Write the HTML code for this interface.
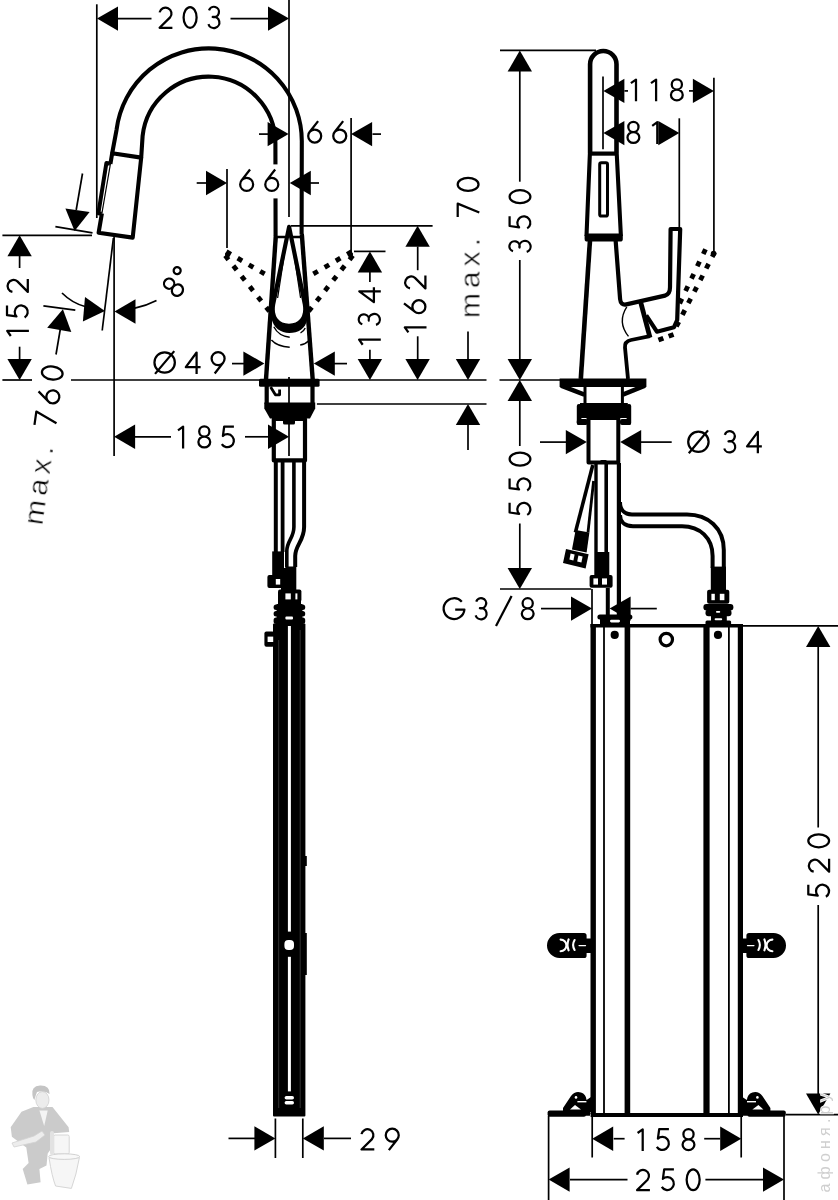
<!DOCTYPE html>
<html><head><meta charset="utf-8"><title>drawing</title>
<style>
html,body{margin:0;padding:0;background:#fff;}
svg{display:block;}
.k{fill:none;stroke:#000;stroke-width:4.1;stroke-linejoin:round;stroke-linecap:butt;}
.t{fill:none;stroke:#000;stroke-width:1.7;}
.f{fill:#000;stroke:none;}
.dot{fill:none;stroke:#000;stroke-width:3;stroke-dasharray:3.2 4.4;stroke-linejoin:round;}
.gl{fill:none;stroke:#000;stroke-width:2.25;stroke-linecap:butt;stroke-linejoin:round;}
.lbl{font-family:"Liberation Sans",sans-serif;font-size:30px;fill:none;stroke:none;}
.tx{font-family:"Liberation Sans",sans-serif;fill:#000;stroke:#fff;stroke-width:0.55px;paint-order:fill stroke;}
</style></head><body>
<svg width="838" height="1200" viewBox="0 0 838 1200">
<rect width="838" height="1200" fill="#fff"/>
<!-- ================= FRONT VIEW ================= -->
<g class="k">
  <!-- spout arch -->
  <path d="M112.2 153.2 L116.5 130.1 A93 93 0 0 1 301.8 143 L301.6 234"/>
  <path d="M141.2 157.6 L142.6 136 A66.6 66.6 0 0 1 275.4 143 L275.6 236"/>
  <!-- spray head -->
  <path d="M110.4 164 L112.2 153.2 L141.2 157.6 L132.7 237.6 L98.6 232.8 L101.9 213.4"/>
  <path d="M110.4 164 L101.9 213.4" stroke-width="1.2"/>
  <path d="M110 163.4 L106.4 163 L98.4 213.2 L101.6 213.8" stroke-width="4"/>
  <!-- body sides -->
  <path d="M275.8 236 L266 379.5" stroke-width="4.4"/>
  <path d="M301.8 234 L312.7 379.5" stroke-width="4.4"/>
  <path d="M276 237 L285.6 237 M292.8 237 L301.5 237" stroke-width="2.6"/>
  <!-- lever teardrop -->
  <path d="M289.1 226.8 L273.2 304 C270.8 318 278 325.8 289 325.8 C300 325.8 307.2 318 304.8 304 Z" stroke-width="4.2"/>
  <path d="M271.2 317 C273 328 281 333 289.3 333 C298 333 305.8 329 307.2 319 L303 313 C303 321 296 324.8 289 324.8 C282 324.8 275 321 275 313 Z" fill="#000" stroke="none"/>
  <path d="M286.5 240 L277.6 298" stroke-width="1.3"/>
  <path d="M291.8 240 L300.6 298" stroke-width="1.3"/>
  <!-- recess arcs -->
  <path d="M273.8 326.8 C277 333 283 336.6 289.7 337.2" stroke-width="1.4"/>
  <path d="M300.5 333 C303 331.6 304.4 330 305.2 328" stroke-width="1.4"/>
  <path d="M271.4 340 C275 344 282 346.8 289.7 347.2" stroke-width="1.4"/>
  <path d="M300.2 345 C304 344.4 306.6 343 308.4 341" stroke-width="1.4"/>
  <!-- neck -->
  <path d="M266.7 386 L266.7 404 M312.5 386 L312.5 404" stroke-width="4.2"/>
  <path d="M270.6 387 L275.4 394.8 L279.6 394.8 L279.6 389.4" stroke-width="2.8"/>
  <!-- shank -->
  <rect x="273.8" y="419" width="31.2" height="41.4" stroke-width="4.2"/>
  <!-- hoses -->
  <path d="M275.8 462 L275.8 552" stroke-width="4"/>
  <path d="M282.6 462 L282.6 552" stroke-width="3.8"/>
  <path d="M293.9 462 L293.9 527 C293.9 538 286.8 541 286.8 551 L286.8 567" stroke-width="3.6"/>
  <path d="M304.1 462 L304.1 527 C304.1 541 295.2 545 295.2 556 L295.2 567" stroke-width="4"/>
</g>
<g class="f">
  <!-- base plate -->
  <rect x="259" y="378.8" width="60.6" height="8" rx="1.5"/>
  <!-- band -->
  <path d="M264.3 402.4 L315.2 402.4 L315.2 408.6 L310 418.6 L270 418.6 L264.3 408.6 Z"/>
  <rect x="283" y="418" width="12" height="6.5" rx="1.5"/>
  <!-- fittings front -->
  <rect x="272.2" y="551.4" width="11.8" height="25"/>
  <rect x="267.4" y="575" width="16.6" height="13" rx="2"/>
  <rect x="285.3" y="566.5" width="11" height="24.5"/>
  <rect x="278" y="589.6" width="23.4" height="12.4" rx="2"/>
  <rect x="273.6" y="604.6" width="31.6" height="5.4" rx="2.5"/>
  <rect x="273.6" y="611" width="31.6" height="5.4" rx="2.5"/>
  <rect x="273.6" y="617.4" width="31.6" height="6.6" rx="2.5"/>
  <rect x="278" y="600" width="23" height="8"/>
  <rect x="264.4" y="631.6" width="10" height="15.2" rx="2"/>
  <rect x="281" y="568" width="6" height="22"/>
  <rect x="276.6" y="604" width="25.8" height="20"/>
  <!-- narrow box -->
  <rect x="273" y="623.4" width="32.4" height="493.2" rx="1"/>
  <rect x="305" y="856" width="1.8" height="10"/>
  <rect x="305" y="933" width="1.8" height="42"/>
</g>
<g fill="#fff">
  <rect x="275.8" y="579" width="4.4" height="5.6"/>
  <rect x="285.4" y="593.4" width="5.4" height="6"/>
  <rect x="295.4" y="593.4" width="2" height="6"/>
  <rect x="285.4" y="616.6" width="7.6" height="3" rx="1"/>
  <rect x="267.6" y="636.6" width="5.6" height="5.4"/>
  <rect x="287.9" y="626" width="3" height="305.6"/>
  <rect x="287.9" y="956.8" width="3" height="134.6"/>
  <rect x="284.4" y="940" width="9.6" height="10" rx="4"/>
  <rect x="284.6" y="1096" width="9.4" height="3.6" rx="1.8"/>
  <rect x="284.6" y="1101" width="9.4" height="3.4" rx="1.7"/>
</g>
<g stroke="#555" stroke-width="0.6" fill="none">
  <line x1="278.7" y1="640" x2="278.7" y2="1108"/>
  <line x1="300.2" y1="630" x2="300.2" y2="1108"/>
</g>

<!-- ================= SIDE VIEW ================= -->
<g class="k">
  <path d="M590.1 153 L590.1 64.2 A13.2 13.2 0 0 1 616.5 64.2 L616.5 153" stroke-width="4.6"/>
  <path d="M589.9 153 L586.5 236 M616.7 153 L620.9 236"/>
  <path d="M589.6 153.6 L617 153.6" stroke-width="4.2"/>
  <rect x="599.7" y="162.8" width="7.8" height="53.2" rx="1.6" stroke-width="3"/>
  <!-- body -->
  <path d="M590 240 L580.8 379" stroke-width="4.6"/>
  <path d="M615.6 240 L620.1 299.2 Q620.7 305.6 626.4 304.4 L665 295.6 Q670 294.4 670 287.3 L670.6 229 L680.2 229 L677.2 320 L674 327.2 L656.9 331.7 L646.2 315.4" stroke-width="4.2"/>
  <path d="M640.8 302.6 L650 337.6" stroke-width="4.8"/>
  <path d="M650 336.2 L631 340 Q624.4 341.4 625 347.6 L628 379" stroke-width="3.8"/>
  <path d="M626.8 306.8 Q617 322 628.5 336.4" stroke-width="1.4"/>
  <!-- neck -->
  <path d="M585 387 L585 404 M622.4 387 L622.4 404" stroke-width="3"/>
  <path d="M561 385.6 L584.4 394.6 M645 385.6 L622.8 394.6" stroke-width="4.4"/>
  <!-- shank -->
  <rect x="588.5" y="418" width="29.8" height="44.4" stroke-width="4"/>
  <!-- left hose -->
  <path d="M592.8 465 L575.4 532.4" stroke-width="3.6"/>
  <path d="M593.6 481 L588 532.4" stroke-width="2.8"/>
  <!-- centre hose -->
  <path d="M596 463 L596 552" stroke-width="3.4"/>
  <path d="M606.2 463 L606.2 552" stroke-width="3.6"/>
  <path d="M618.9 463 L618.9 616" stroke-width="4.2"/>
  <path d="M607.8 588 L607.8 615" stroke-width="4"/>
  <!-- right hose -->
  <path d="M620 502 C620 509 624 514.4 632 514.4 L687 514.4 C708 514.4 723.8 528 723.8 550 L723.8 568" stroke-width="4"/>
  <path d="M620 515 C620 521 624 526.2 633 526.2 L682 526.2 C700 526.2 712.6 538 712.6 556 L712.6 568" stroke-width="4"/>
</g>
<g class="f">
    <!-- head bottom band -->
  <rect x="584.6" y="233.4" width="38.2" height="8.2" rx="2.6"/>
  <!-- base -->
  <path d="M559.6 378.6 L646.4 378.6 L646.4 387 L559.6 387 Z"/>
  <!-- band + clips -->
  <rect x="580" y="403" width="47.8" height="15"/>
  <rect x="576.8" y="404" width="4.6" height="21" rx="2"/>
  <rect x="626.6" y="404" width="4.6" height="21" rx="2"/>
  <rect x="576.8" y="419" width="11" height="6" rx="2"/>
  <rect x="620" y="419" width="11" height="6" rx="2"/>
  <rect x="600" y="460" width="7" height="3.4" rx="1.5"/>
  <!-- left connector & nut -->
  <path d="M575.6 530 L589.4 532.6 L586.6 552.6 L572 549.6 Z"/>
  <path d="M566 549 L588.6 554.2 L585.6 568.6 L563 563 Z"/>
  <!-- centre connector & nut -->
  <rect x="594.3" y="552" width="15" height="23.6"/>
  <rect x="589.6" y="575" width="23" height="12.8" rx="2"/>
  <!-- right connector -->
  <rect x="710.8" y="566.6" width="15.2" height="24"/>
  <rect x="707.1" y="589.7" width="22.2" height="14" rx="2"/>
  <rect x="703.4" y="604" width="30" height="6.4" rx="3"/>
  <rect x="705.5" y="609.6" width="26" height="6.6" rx="3"/>
  <rect x="711" y="615" width="15.8" height="7"/>
  <rect x="705.5" y="620.6" width="25.6" height="5" rx="1.5"/>
  <!-- box top bump -->
  <rect x="597.4" y="614.4" width="35" height="5" rx="2.5"/>
  <rect x="600" y="617" width="30" height="7"/>
  <!-- box holes -->
  <circle cx="614.7" cy="634.9" r="4.1"/>
  <circle cx="718" cy="634.9" r="4.1"/>
</g>
<g fill="#fff">
  <path d="M570.6 553.6 L574.6 554.6 L573.4 560.4 L569.4 559.4 Z"/>
  <path d="M578.4 555.4 L582.6 556.4 L581.4 562.4 L577.2 561.4 Z"/>
  <rect x="593.4" y="578.4" width="4.6" height="6.2"/>
  <rect x="602" y="578.4" width="5" height="6.2"/>
  <rect x="711.4" y="593.8" width="3.4" height="6.4"/>
  <rect x="719.8" y="593.8" width="4.6" height="6.4"/>
  <rect x="610" y="619.8" width="10" height="2.6" rx="1.3"/>
  <rect x="716" y="611" width="4.2" height="1.7" rx="0.8"/><rect x="714.6" y="618.2" width="7.6" height="2" rx="1"/>
</g>
<!-- box -->
<g class="k">
  <path d="M590.5 625.8 L742.8 625.8" stroke-width="3.6"/>
  <path d="M590.6 1115 L743 1115" stroke-width="3.8"/>
  <path d="M593.2 624 L593.2 1114" stroke-width="5.4"/>
  <path d="M740.4 624 L740.4 1114" stroke-width="5.2"/>
  <path d="M604 626 L604 1113" stroke-width="1.8"/>
  <path d="M728.9 626 L728.9 1113" stroke-width="1.8"/>
  <path d="M627.4 626 L627.4 1113" stroke-width="5.6"/>
  <path d="M706.5 626 L706.5 1113" stroke-width="6.2"/>
  <circle cx="666.3" cy="639.6" r="6.2" stroke-width="3.2"/>
  <!-- feet -->
  <path d="M549.4 1113.6 L590 1113.6" stroke-width="4.4"/>
  <path d="M743 1113.6 L785 1113.6" stroke-width="4.4"/>
</g>
<!-- brackets & feet -->
<g class="f">
  <path d="M559.5 933 L584 933 Q586.6 933 586.6 935.6 L586.6 938.4 L591.4 938.4 L591.4 953 L586.6 953 L586.6 955.4 Q586.6 958 584 958 L559.5 958 A12.5 12.5 0 0 1 559.5 933 Z"/>
  <path d="M773.5 933 L749 933 Q746.4 933 746.4 935.6 L746.4 938.4 L741.6 938.4 L741.6 953 L746.4 953 L746.4 955.4 Q746.4 958 749 958 L773.5 958 A12.5 12.5 0 0 0 773.5 933 Z"/>
  <!-- feet hooks -->
  <path d="M563 1112 L563 1108 L571 1096 Q575 1090.6 581 1092.4 Q586 1094 586.6 1100 L591 1097 L591 1112 Z"/>
  <path d="M770.4 1112 L770.4 1108 L762.4 1096 Q758.4 1090.6 752.4 1092.4 Q747.4 1094 746.8 1100 L742.4 1097 L742.4 1112 Z"/>
  <rect x="547.6" y="1110.4" width="38.4" height="6.4" rx="2"/>
  <rect x="747.4" y="1110.4" width="38.4" height="6.4" rx="2"/>
</g>
<g fill="none" stroke="#fff" stroke-width="2.1" stroke-linecap="round">
  <path d="M560.6 939.6 A5.6 5.6 0 0 1 560.6 951.2"/>
  <path d="M568.6 939.4 Q566.4 945 568.6 950.4"/>
  <path d="M574.6 940 Q571.6 945 574.6 950"/>
  <path d="M579 945.6 L585.6 945.6" stroke-width="1.1"/>
  <path d="M772.4 939.6 A5.6 5.6 0 0 0 772.4 951.2"/>
  <path d="M764.4 939.4 Q766.6 945 764.4 950.4"/>
  <path d="M758.4 940 Q761.4 945 758.4 950"/>
  <path d="M754 945.6 L747.4 945.6" stroke-width="1.1"/>
</g>
<g fill="#fff">
  <path d="M570 1109.4 L575 1105 L581 1109.4 Z"/>
  <path d="M763.4 1109.4 L758.4 1105 L752.4 1109.4 Z"/>
  <rect x="577.4" y="1101" width="9" height="1.4"/>
  <rect x="747" y="1101" width="9" height="1.4"/>
  <circle cx="576" cy="1097.4" r="1.3"/>
  <circle cx="757.4" cy="1097.4" r="1.3"/>
</g>
<!-- watermarks -->
<g stroke="none">
  <path d="M33.4 1107 L52.5 1107 L68.6 1127.3 L69.2 1132 L53.7 1133.2 L52.5 1146.4 L47.7 1153.5 L46.5 1165.5 L39.4 1169 L40.6 1182.2 L27.4 1184.6 L22.7 1169 L28.6 1163 L26.3 1147.6 L11.9 1136.8 L10.7 1127.3 L21.5 1111.8 Z" fill="#cbcbcb"/>
  <path d="M39.4 1110.6 L47.7 1110.6 L44.2 1126 Z" fill="#f4f4f4"/>
  <ellipse cx="42.4" cy="1100" rx="6.6" ry="8.4" fill="#ececec" stroke="#cfcfcf" stroke-width="0.8"/>
  <path d="M32.4 1095 Q31 1086 40 1085.4 Q50 1085 49.6 1094 Q44 1090 37 1092 Q35.4 1096 34.4 1100 Q32.6 1098 32.4 1095 Z" fill="#c4c4c4"/>
  <path d="M12 1143 L34 1136 L42 1131 L45 1135 L36 1142 L14 1147 Z" fill="#ededed" stroke="#d2d2d2" stroke-width="0.8"/>
  <rect x="53.7" y="1135" width="15.5" height="19" rx="1.5" fill="#f6f6f6" stroke="#d6d6d6" stroke-width="1"/>
  <path d="M49 1157.6 Q52 1177 55.6 1186 L71.4 1188.4 Q76.4 1175 79.4 1157.6 Z" fill="#f6f6f6" stroke="#d6d6d6" stroke-width="1"/>
  <ellipse cx="64.2" cy="1156.6" rx="15.6" ry="2.8" fill="#f8f8f8" stroke="#d2d2d2" stroke-width="1"/>
  <rect x="50" y="1131" width="4" height="24" rx="2" fill="#e2e2e2"/>
</g>
<g class="t">
<line x1="96.8" y1="4.3" x2="96.8" y2="218.0"/>
<line x1="289.0" y1="0.0" x2="289.0" y2="217.0"/>
<line x1="117.5" y1="18.6" x2="151.5" y2="18.6"/>
<line x1="230.5" y1="18.6" x2="268.5" y2="18.6"/>
<line x1="2.4" y1="235.3" x2="92.0" y2="235.3"/>
<line x1="55.4" y1="226.7" x2="92.5" y2="232.8"/>
<line x1="114.1" y1="236.0" x2="114.1" y2="456.0"/>
<line x1="113.4" y1="238.0" x2="102.2" y2="330.5"/>
<line x1="2.4" y1="380.0" x2="32.0" y2="380.0"/>
<line x1="71.0" y1="380.0" x2="486.5" y2="380.0"/>
<line x1="499.5" y1="380.0" x2="562.0" y2="380.0"/>
<line x1="19.6" y1="255.0" x2="19.6" y2="268.0"/>
<line x1="19.6" y1="346.7" x2="19.6" y2="360.0"/>
<line x1="43.4" y1="305.8" x2="75.3" y2="310.1"/>
<line x1="60.5" y1="328.0" x2="56.0" y2="354.5"/>
<path d="M62 293 Q72 303 85 306.5"/>
<path d="M134.9 308.2 Q146 306 156.5 300.6"/>
<line x1="134.5" y1="436.8" x2="171.0" y2="436.8"/>
<line x1="245.0" y1="436.8" x2="268.5" y2="436.8"/>
<line x1="196.7" y1="183.0" x2="206.5" y2="183.0"/>
<line x1="309.5" y1="183.0" x2="319.0" y2="183.0"/>
<line x1="227.0" y1="169.0" x2="227.0" y2="248.0"/>
<line x1="259.0" y1="134.1" x2="268.5" y2="134.1"/>
<line x1="372.5" y1="134.1" x2="381.0" y2="134.1"/>
<line x1="351.1" y1="118.0" x2="351.1" y2="252.5"/>
<line x1="291.0" y1="225.8" x2="432.6" y2="225.8"/>
<line x1="354.0" y1="251.4" x2="385.5" y2="251.4"/>
<line x1="369.9" y1="271.5" x2="369.9" y2="282.0"/>
<line x1="369.9" y1="349.7" x2="369.9" y2="359.0"/>
<line x1="417.7" y1="246.5" x2="417.7" y2="270.2"/>
<line x1="417.7" y1="336.3" x2="417.7" y2="359.0"/>
<line x1="468.0" y1="331.5" x2="468.0" y2="359.5"/>
<line x1="316.9" y1="404.0" x2="486.5" y2="404.0"/>
<line x1="468.0" y1="424.5" x2="468.0" y2="450.0"/>
<line x1="232.0" y1="363.6" x2="245.0" y2="363.6"/>
<line x1="333.5" y1="363.6" x2="347.0" y2="363.6"/>
<line x1="289.0" y1="377.0" x2="289.0" y2="456.0"/>
<line x1="275.4" y1="1118.5" x2="275.4" y2="1158.0"/>
<line x1="302.8" y1="1118.5" x2="302.8" y2="1158.0"/>
<line x1="228.5" y1="1138.4" x2="255.0" y2="1138.4"/>
<line x1="324.0" y1="1138.4" x2="351.0" y2="1138.4"/>
<line x1="500.0" y1="50.3" x2="596.0" y2="50.3"/>
<line x1="519.8" y1="71.0" x2="519.8" y2="181.7"/>
<line x1="519.8" y1="260.0" x2="519.8" y2="359.5"/>
<line x1="519.8" y1="401.0" x2="519.8" y2="446.0"/>
<line x1="519.8" y1="523.5" x2="519.8" y2="568.5"/>
<line x1="603.0" y1="76.5" x2="603.0" y2="149.3"/>
<line x1="713.9" y1="77.7" x2="713.9" y2="251.0"/>
<line x1="679.3" y1="118.3" x2="679.3" y2="227.4"/>
<line x1="624.4" y1="90.9" x2="628.0" y2="90.9"/>
<line x1="689.0" y1="90.9" x2="693.2" y2="90.9"/>
<line x1="540.0" y1="442.1" x2="567.0" y2="442.1"/>
<line x1="640.0" y1="442.1" x2="671.7" y2="442.1"/>
<line x1="541.0" y1="608.6" x2="571.0" y2="608.6"/>
<line x1="630.6" y1="608.6" x2="656.8" y2="608.6"/>
<line x1="500.0" y1="589.0" x2="591.2" y2="589.0"/>
<line x1="592.0" y1="589.0" x2="592.0" y2="624.0"/>
<line x1="742.0" y1="625.8" x2="838.0" y2="625.8"/>
<line x1="786.0" y1="1114.6" x2="838.0" y2="1114.6"/>
<line x1="818.2" y1="646.0" x2="818.2" y2="827.5"/>
<line x1="818.2" y1="905.0" x2="818.2" y2="1094.5"/>
<line x1="592.2" y1="1116.0" x2="592.2" y2="1157.5"/>
<line x1="741.2" y1="1116.0" x2="741.2" y2="1157.5"/>
<line x1="613.7" y1="1138.7" x2="624.6" y2="1138.7"/>
<line x1="704.2" y1="1138.7" x2="720.2" y2="1138.7"/>
<line x1="548.6" y1="1116.0" x2="548.6" y2="1200.0"/>
<line x1="784.0" y1="1116.0" x2="784.0" y2="1200.0"/>
<line x1="570.0" y1="1179.6" x2="627.5" y2="1179.6"/>
<line x1="705.4" y1="1179.6" x2="763.5" y2="1179.6"/>
</g>
<g class="f">
<polygon points="97.0,18.6 118.0,30.8 118.0,6.4"/>
<polygon points="289.0,18.6 268.0,6.4 268.0,30.8"/>
<polygon points="19.6,235.3 7.4,256.3 31.8,256.3"/>
<polygon points="19.6,380.0 31.8,359.0 7.4,359.0"/>
<polygon points="104.9,311.1 85.0,297.1 82.9,321.4"/>
<polygon points="114.5,311.5 135.5,323.7 135.5,299.3"/>
<polygon points="62.9,309.2 47.2,327.8 71.3,332.0"/>
<polygon points="74.6,231.0 89.6,211.9 65.4,208.5"/>
<polygon points="114.1,436.8 135.1,449.0 135.1,424.6"/>
<polygon points="289.0,436.8 268.0,424.6 268.0,449.0"/>
<polygon points="227.0,183.0 206.0,170.8 206.0,195.2"/>
<polygon points="289.8,183.0 310.8,195.2 310.8,170.8"/>
<polygon points="288.6,134.1 267.6,121.9 267.6,146.3"/>
<polygon points="351.1,134.1 372.1,146.3 372.1,121.9"/>
<polygon points="369.9,251.4 357.7,272.4 382.1,272.4"/>
<polygon points="369.9,380.0 382.1,359.0 357.7,359.0"/>
<polygon points="417.6,225.8 405.4,246.8 429.8,246.8"/>
<polygon points="417.6,380.0 429.8,359.0 405.4,359.0"/>
<polygon points="468.0,380.0 480.2,359.0 455.8,359.0"/>
<polygon points="468.0,404.0 455.8,425.0 480.2,425.0"/>
<polygon points="264.4,363.6 243.4,351.4 243.4,375.8"/>
<polygon points="313.8,363.6 334.8,375.8 334.8,351.4"/>
<polygon points="275.4,1138.4 254.4,1126.2 254.4,1150.6"/>
<polygon points="302.8,1138.4 323.8,1150.6 323.8,1126.2"/>
<polygon points="519.8,50.6 507.6,71.6 532.0,71.6"/>
<polygon points="519.8,380.0 532.0,359.0 507.6,359.0"/>
<polygon points="519.8,380.0 507.6,401.0 532.0,401.0"/>
<polygon points="519.8,589.0 532.0,568.0 507.6,568.0"/>
<polygon points="603.4,90.9 624.4,103.1 624.4,78.7"/>
<polygon points="713.9,90.9 692.9,78.7 692.9,103.1"/>
<polygon points="603.4,133.1 624.4,145.3 624.4,120.9"/>
<polygon points="679.3,133.1 658.3,120.9 658.3,145.3"/>
<polygon points="586.8,442.1 565.8,429.9 565.8,454.3"/>
<polygon points="620.2,442.1 641.2,454.3 641.2,429.9"/>
<polygon points="592.0,608.6 571.0,596.4 571.0,620.8"/>
<polygon points="609.6,608.6 630.6,620.8 630.6,596.4"/>
<polygon points="818.2,626.0 806.0,647.0 830.4,647.0"/>
<polygon points="818.2,1114.4 830.4,1093.4 806.0,1093.4"/>
<polygon points="592.2,1138.7 613.2,1150.9 613.2,1126.5"/>
<polygon points="741.2,1138.7 720.2,1126.5 720.2,1150.9"/>
<polygon points="548.6,1179.6 569.6,1191.8 569.6,1167.4"/>
<polygon points="784.0,1179.6 763.0,1167.4 763.0,1191.8"/>
</g>
<g class="t">
<line x1="82.5" y1="173.5" x2="76.2" y2="210.0"/>
</g>
<g class="f">
<rect x="226.0" y="250.6" width="5.2" height="4.8" transform="rotate(30.1 228.6 253.0)"/>
<rect x="237.3" y="257.1" width="5.2" height="4.8" transform="rotate(30.1 239.9 259.5)"/>
<rect x="248.5" y="263.7" width="5.2" height="4.8" transform="rotate(30.1 251.1 266.1)"/>
<rect x="259.8" y="270.2" width="5.2" height="4.8" transform="rotate(30.1 262.4 272.6)"/>
<rect x="224.2" y="255.2" width="5.2" height="4.8" transform="rotate(51.6 226.8 257.6)"/>
<rect x="232.4" y="265.5" width="5.2" height="4.8" transform="rotate(51.6 235.0 267.9)"/>
<rect x="240.6" y="275.9" width="5.2" height="4.8" transform="rotate(51.6 243.2 278.3)"/>
<rect x="248.8" y="286.2" width="5.2" height="4.8" transform="rotate(51.6 251.4 288.6)"/>
<rect x="257.0" y="296.6" width="5.2" height="4.8" transform="rotate(51.6 259.6 299.0)"/>
<rect x="265.2" y="306.9" width="5.2" height="4.8" transform="rotate(51.6 267.8 309.3)"/>
<rect x="346.8" y="250.6" width="5.2" height="4.8" transform="rotate(149.9 349.4 253.0)"/>
<rect x="335.5" y="257.1" width="5.2" height="4.8" transform="rotate(149.9 338.1 259.5)"/>
<rect x="324.3" y="263.7" width="5.2" height="4.8" transform="rotate(149.9 326.9 266.1)"/>
<rect x="313.0" y="270.2" width="5.2" height="4.8" transform="rotate(149.9 315.6 272.6)"/>
<rect x="348.6" y="255.2" width="5.2" height="4.8" transform="rotate(128.4 351.2 257.6)"/>
<rect x="340.4" y="265.5" width="5.2" height="4.8" transform="rotate(128.4 343.0 267.9)"/>
<rect x="332.2" y="275.9" width="5.2" height="4.8" transform="rotate(128.4 334.8 278.3)"/>
<rect x="324.0" y="286.2" width="5.2" height="4.8" transform="rotate(128.4 326.6 288.6)"/>
<rect x="315.8" y="296.6" width="5.2" height="4.8" transform="rotate(128.4 318.4 299.0)"/>
<rect x="307.6" y="306.9" width="5.2" height="4.8" transform="rotate(128.4 310.2 309.3)"/>
<circle cx="227.6" cy="254.6" r="2.6"/><circle cx="350.4" cy="254.6" r="2.6"/>
<rect x="710.8" y="252.2" width="5.2" height="4.8" transform="rotate(117.3 713.4 254.6)"/>
<rect x="704.8" y="263.8" width="5.2" height="4.8" transform="rotate(117.3 707.4 266.2)"/>
<rect x="698.9" y="275.4" width="5.2" height="4.8" transform="rotate(117.3 701.5 277.8)"/>
<rect x="692.9" y="287.0" width="5.2" height="4.8" transform="rotate(117.3 695.5 289.4)"/>
<rect x="686.9" y="298.5" width="5.2" height="4.8" transform="rotate(117.3 689.5 300.9)"/>
<rect x="681.0" y="310.1" width="5.2" height="4.8" transform="rotate(117.3 683.6 312.5)"/>
<rect x="675.0" y="321.7" width="5.2" height="4.8" transform="rotate(117.3 677.6 324.1)"/>
<rect x="701.8" y="249.2" width="5.2" height="4.8" transform="rotate(115.5 704.4 251.6)"/>
<rect x="695.9" y="261.6" width="5.2" height="4.8" transform="rotate(115.5 698.5 263.9)"/>
<rect x="690.0" y="273.9" width="5.2" height="4.8" transform="rotate(115.5 692.6 276.3)"/>
<rect x="684.1" y="286.2" width="5.2" height="4.8" transform="rotate(115.5 686.7 288.6)"/>
<rect x="678.2" y="298.6" width="5.2" height="4.8" transform="rotate(115.5 680.8 301.0)"/>
<rect x="668.5" y="333.0" width="5.2" height="4.8" transform="rotate(159.6 671.1 335.4)"/>
<rect x="658.3" y="336.8" width="5.2" height="4.8" transform="rotate(159.6 660.9 339.2)"/>
<circle cx="713.6" cy="253.6" r="2.8"/>
</g>
<rect x="272" y="164.4" width="8" height="34" fill="#fff"/>
<g class="gl">
<path transform="translate(165.50 17.40) rotate(0)" d="M-5.9 -5 A6 6 0 1 1 4.6 0 L-5.9 10.4 L6.9 10.4"/>
<path transform="translate(190.10 17.40) rotate(0)" d="M0 -10.4 A6.5 10.4 0 1 1 0 10.4 A6.5 10.4 0 1 1 0 -10.4 Z"/>
<path transform="translate(214.00 17.40) rotate(0)" d="M-5 -7 A5.1 5.1 0 1 1 -1.27 -0.5 A5.6 5.6 0 1 1 -5.56 6.7"/>
<path transform="translate(180.90 436.90) rotate(0)" d="M-2.9 -6.6 L2.2 -10.2 L2.2 11.5"/>
<path transform="translate(204.30 436.90) rotate(0)" d="M0 -10.5 A5.1 5.1 0 1 1 0 -0.3 A5.1 5.1 0 1 1 0 -10.5 Z M0 -0.3 A5.9 5.4 0 1 1 0 10.5 A5.9 5.4 0 1 1 0 -0.3 Z"/>
<path transform="translate(228.10 436.90) rotate(0)" d="M5.8 -10.4 L-3.9 -10.4 L-5.2 -0.9 A6.5 6.5 0 1 1 -6.3 7.2"/>
<path transform="translate(246.65 180.50) rotate(0)" d="M3.4 -11 L-5.5 0.4 M0 -2.6 A6.5 6.5 0 1 1 0 10.4 A6.5 6.5 0 1 1 0 -2.6 Z"/>
<path transform="translate(271.75 180.50) rotate(0)" d="M3.4 -11 L-5.5 0.4 M0 -2.6 A6.5 6.5 0 1 1 0 10.4 A6.5 6.5 0 1 1 0 -2.6 Z"/>
<path transform="translate(314.70 132.10) rotate(0)" d="M3.4 -11 L-5.5 0.4 M0 -2.6 A6.5 6.5 0 1 1 0 10.4 A6.5 6.5 0 1 1 0 -2.6 Z"/>
<path transform="translate(339.75 132.10) rotate(0)" d="M3.4 -11 L-5.5 0.4 M0 -2.6 A6.5 6.5 0 1 1 0 10.4 A6.5 6.5 0 1 1 0 -2.6 Z"/>
<path transform="translate(633.80 89.80) rotate(0)" d="M-2.9 -6.6 L2.2 -10.2 L2.2 11.5"/>
<path transform="translate(653.90 89.80) rotate(0)" d="M-2.9 -6.6 L2.2 -10.2 L2.2 11.5"/>
<path transform="translate(676.85 89.80) rotate(0)" d="M0 -10.5 A5.1 5.1 0 1 1 0 -0.3 A5.1 5.1 0 1 1 0 -10.5 Z M0 -0.3 A5.9 5.4 0 1 1 0 10.5 A5.9 5.4 0 1 1 0 -0.3 Z"/>
<path transform="translate(633.40 132.40) rotate(0)" d="M0 -10.5 A5.1 5.1 0 1 1 0 -0.3 A5.1 5.1 0 1 1 0 -10.5 Z M0 -0.3 A5.9 5.4 0 1 1 0 10.5 A5.9 5.4 0 1 1 0 -0.3 Z"/>
<path transform="translate(655.10 132.40) rotate(0)" d="M-2.9 -6.6 L2.2 -10.2 L2.2 11.5"/>
<path transform="translate(164.65 362.50) rotate(0)" d="M0 -10.2 A10.2 10.2 0 1 1 0 10.2 A10.2 10.2 0 1 1 0 -10.2 Z M-9.6 11.4 L9.6 -11.4"/>
<path transform="translate(193.00 362.50) rotate(0)" d="M3.6 11.5 L3.6 -10 L-7.2 4.6 L7.6 4.6"/>
<path transform="translate(218.10 362.50) rotate(0)" d="M-3.4 11 L5.5 -0.4 M0 2.6 A6.5 6.5 0 1 1 0 -10.4 A6.5 6.5 0 1 1 0 2.6 Z"/>
<path transform="translate(698.40 441.80) rotate(0)" d="M0 -10.2 A10.2 10.2 0 1 1 0 10.2 A10.2 10.2 0 1 1 0 -10.2 Z M-9.6 11.4 L9.6 -11.4"/>
<path transform="translate(729.80 441.80) rotate(0)" d="M-5 -7 A5.1 5.1 0 1 1 -1.27 -0.5 A5.6 5.6 0 1 1 -5.56 6.7"/>
<path transform="translate(754.25 441.80) rotate(0)" d="M3.6 11.5 L3.6 -10 L-7.2 4.6 L7.6 4.6"/>
<path transform="translate(454.00 608.70) rotate(0)" d="M7.8 -7 A10.4 10.4 0 1 0 10.4 0.9 L1.2 0.9"/>
<path transform="translate(481.20 608.70) rotate(0)" d="M-5 -7 A5.1 5.1 0 1 1 -1.27 -0.5 A5.6 5.6 0 1 1 -5.56 6.7"/>
<path transform="translate(504.00 608.70) rotate(0)" d="M7.6 -12.6 L-8 17.2"/>
<path transform="translate(527.70 608.70) rotate(0)" d="M0 -10.5 A5.1 5.1 0 1 1 0 -0.3 A5.1 5.1 0 1 1 0 -10.5 Z M0 -0.3 A5.9 5.4 0 1 1 0 10.5 A5.9 5.4 0 1 1 0 -0.3 Z"/>
<path transform="translate(640.50 1139.60) rotate(0)" d="M-2.9 -6.6 L2.2 -10.2 L2.2 11.5"/>
<path transform="translate(663.10 1139.60) rotate(0)" d="M5.8 -10.4 L-3.9 -10.4 L-5.2 -0.9 A6.5 6.5 0 1 1 -6.3 7.2"/>
<path transform="translate(688.50 1139.60) rotate(0)" d="M0 -10.5 A5.1 5.1 0 1 1 0 -0.3 A5.1 5.1 0 1 1 0 -10.5 Z M0 -0.3 A5.9 5.4 0 1 1 0 10.5 A5.9 5.4 0 1 1 0 -0.3 Z"/>
<path transform="translate(643.00 1179.70) rotate(0)" d="M-5.9 -5 A6 6 0 1 1 4.6 0 L-5.9 10.4 L6.9 10.4"/>
<path transform="translate(668.10 1179.70) rotate(0)" d="M5.8 -10.4 L-3.9 -10.4 L-5.2 -0.9 A6.5 6.5 0 1 1 -6.3 7.2"/>
<path transform="translate(693.15 1179.70) rotate(0)" d="M0 -10.4 A6.5 10.4 0 1 1 0 10.4 A6.5 10.4 0 1 1 0 -10.4 Z"/>
<path transform="translate(367.40 1139.10) rotate(0)" d="M-5.9 -5 A6 6 0 1 1 4.6 0 L-5.9 10.4 L6.9 10.4"/>
<path transform="translate(392.25 1139.10) rotate(0)" d="M-3.4 11 L5.5 -0.4 M0 2.6 A6.5 6.5 0 1 1 0 -10.4 A6.5 6.5 0 1 1 0 2.6 Z"/>
<path transform="translate(17.40 333.10) rotate(-90)" d="M-2.9 -6.6 L2.2 -10.2 L2.2 11.5"/>
<path transform="translate(17.40 311.25) rotate(-90)" d="M5.8 -10.4 L-3.9 -10.4 L-5.2 -0.9 A6.5 6.5 0 1 1 -6.3 7.2"/>
<path transform="translate(17.40 286.00) rotate(-90)" d="M-5.9 -5 A6 6 0 1 1 4.6 0 L-5.9 10.4 L6.9 10.4"/>
<path transform="translate(369.30 341.85) rotate(-90)" d="M-2.9 -6.6 L2.2 -10.2 L2.2 11.5"/>
<path transform="translate(369.30 319.30) rotate(-90)" d="M-5 -7 A5.1 5.1 0 1 1 -1.27 -0.5 A5.6 5.6 0 1 1 -5.56 6.7"/>
<path transform="translate(369.30 294.90) rotate(-90)" d="M3.6 11.5 L3.6 -10 L-7.2 4.6 L7.6 4.6"/>
<path transform="translate(415.00 329.50) rotate(-90)" d="M-2.9 -6.6 L2.2 -10.2 L2.2 11.5"/>
<path transform="translate(415.00 306.70) rotate(-90)" d="M3.4 -11 L-5.5 0.4 M0 -2.6 A6.5 6.5 0 1 1 0 10.4 A6.5 6.5 0 1 1 0 -2.6 Z"/>
<path transform="translate(415.00 282.50) rotate(-90)" d="M-5.9 -5 A6 6 0 1 1 4.6 0 L-5.9 10.4 L6.9 10.4"/>
<path transform="translate(520.00 246.25) rotate(-90)" d="M-5 -7 A5.1 5.1 0 1 1 -1.27 -0.5 A5.6 5.6 0 1 1 -5.56 6.7"/>
<path transform="translate(520.00 222.10) rotate(-90)" d="M5.8 -10.4 L-3.9 -10.4 L-5.2 -0.9 A6.5 6.5 0 1 1 -6.3 7.2"/>
<path transform="translate(520.00 196.70) rotate(-90)" d="M0 -10.4 A6.5 10.4 0 1 1 0 10.4 A6.5 10.4 0 1 1 0 -10.4 Z"/>
<path transform="translate(520.00 508.60) rotate(-90)" d="M5.8 -10.4 L-3.9 -10.4 L-5.2 -0.9 A6.5 6.5 0 1 1 -6.3 7.2"/>
<path transform="translate(520.00 484.25) rotate(-90)" d="M5.8 -10.4 L-3.9 -10.4 L-5.2 -0.9 A6.5 6.5 0 1 1 -6.3 7.2"/>
<path transform="translate(520.00 459.10) rotate(-90)" d="M0 -10.4 A6.5 10.4 0 1 1 0 10.4 A6.5 10.4 0 1 1 0 -10.4 Z"/>
<path transform="translate(818.70 890.50) rotate(-90)" d="M5.8 -10.4 L-3.9 -10.4 L-5.2 -0.9 A6.5 6.5 0 1 1 -6.3 7.2"/>
<path transform="translate(818.70 865.75) rotate(-90)" d="M-5.9 -5 A6 6 0 1 1 4.6 0 L-5.9 10.4 L6.9 10.4"/>
<path transform="translate(818.70 840.80) rotate(-90)" d="M0 -10.4 A6.5 10.4 0 1 1 0 10.4 A6.5 10.4 0 1 1 0 -10.4 Z"/>
<path transform="translate(468.10 210.25) rotate(-90)" d="M-6.8 -10.4 L6.6 -10.4 L-2.2 11.2"/>
<path transform="translate(468.10 184.40) rotate(-90)" d="M0 -10.4 A6.5 10.4 0 1 1 0 10.4 A6.5 10.4 0 1 1 0 -10.4 Z"/>
<path transform="translate(45.71 419.54) rotate(-82)" d="M-6.8 -10.4 L6.6 -10.4 L-2.2 11.2"/>
<path transform="translate(48.98 396.27) rotate(-82)" d="M3.4 -11 L-5.5 0.4 M0 -2.6 A6.5 6.5 0 1 1 0 10.4 A6.5 6.5 0 1 1 0 -2.6 Z"/>
<path transform="translate(52.25 373.00) rotate(-82)" d="M0 -10.4 A6.5 10.4 0 1 1 0 10.4 A6.5 10.4 0 1 1 0 -10.4 Z"/>
<path transform="translate(173.40 287.00) rotate(-52)" d="M0 -10.5 A5.1 5.1 0 1 1 0 -0.3 A5.1 5.1 0 1 1 0 -10.5 Z M0 -0.3 A5.9 5.4 0 1 1 0 10.5 A5.9 5.4 0 1 1 0 -0.3 Z"/>
<path transform="translate(183.39 275.51) rotate(-52)" d="M0 -11.4 A3.5 3.5 0 1 1 0 -4.4 A3.5 3.5 0 1 1 0 -11.4 Z"/>
</g>
<g opacity="0.999">
<text class="tx" transform="translate(479.6 278.1) rotate(-90) scale(1.08 1)" x="2.3" y="0" font-size="28" letter-spacing="4.6" text-anchor="middle">max.</text>
<text class="tx" transform="translate(47.9 486.6) rotate(-82) scale(1.08 1)" x="2.2" y="0" font-size="28" letter-spacing="4.4" text-anchor="middle">max.</text>
</g>
<g class="lbl">
<text transform="translate(190 26) rotate(0)" text-anchor="middle">203</text>
<text transform="translate(27 310) rotate(-90)" text-anchor="middle">152</text>
<text transform="translate(205 446) rotate(0)" text-anchor="middle">185</text>
<text transform="translate(259 190) rotate(0)" text-anchor="middle">66</text>
<text transform="translate(327 141) rotate(0)" text-anchor="middle">66</text>
<text transform="translate(378 318) rotate(-90)" text-anchor="middle">134</text>
<text transform="translate(424 306) rotate(-90)" text-anchor="middle">162</text>
<text transform="translate(477 197) rotate(-90)" text-anchor="middle">70</text>
<text transform="translate(529 221) rotate(-90)" text-anchor="middle">350</text>
<text transform="translate(529 484) rotate(-90)" text-anchor="middle">550</text>
<text transform="translate(656 99) rotate(0)" text-anchor="middle">118</text>
<text transform="translate(644 141) rotate(0)" text-anchor="middle">81</text>
<text transform="translate(190 371) rotate(0)" text-anchor="middle">Ø49</text>
<text transform="translate(726 450) rotate(0)" text-anchor="middle">Ø34</text>
<text transform="translate(490 618) rotate(0)" text-anchor="middle">G3/8</text>
<text transform="translate(827 866) rotate(-90)" text-anchor="middle">520</text>
<text transform="translate(665 1148) rotate(0)" text-anchor="middle">158</text>
<text transform="translate(668 1188) rotate(0)" text-anchor="middle">250</text>
<text transform="translate(380 1148) rotate(0)" text-anchor="middle">29</text>
<text transform="translate(60 396) rotate(-82)" text-anchor="middle">760</text>
<text transform="translate(180 290) rotate(-52)" text-anchor="middle">8°</text>
</g><defs><filter id="nf" x="-20%" y="-20%" width="140%" height="140%"><feOffset dx="0" dy="0"/></filter></defs>
<g filter="url(#nf)">
<text transform="translate(829.6 1192.5) rotate(-90)" font-size="16" fill="#cfcfcf" stroke="#fff" stroke-width="1.6" paint-order="stroke fill" font-family="Liberation Sans, sans-serif" letter-spacing="4.2">афоня.ру</text>
</g>
</svg>
</body></html>
